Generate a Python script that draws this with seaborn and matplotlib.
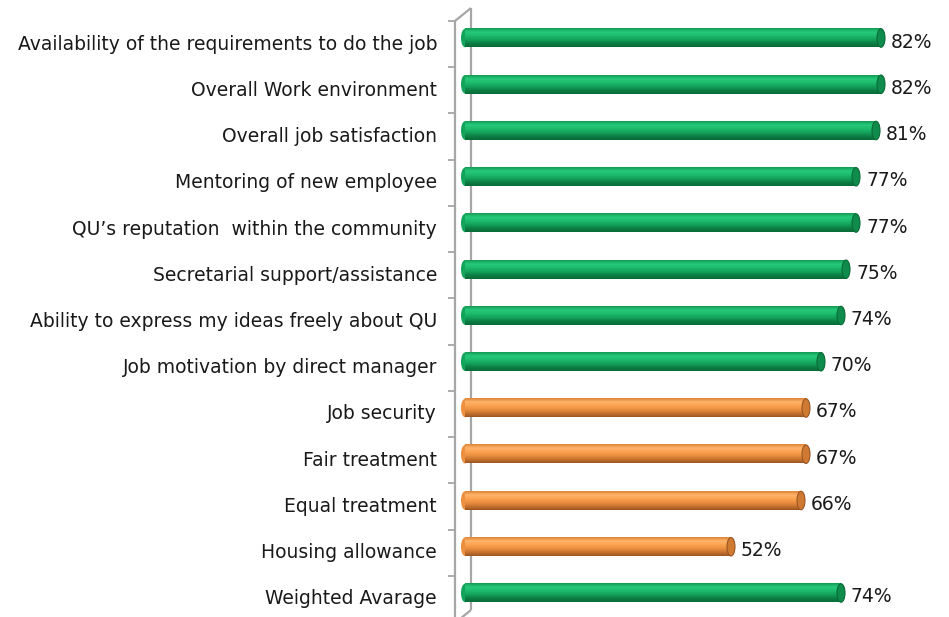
import numpy as np
import pandas as pd
import matplotlib
matplotlib.use("Agg")
import matplotlib.pyplot as plt
import matplotlib.transforms as mtransforms
from matplotlib.patches import Ellipse
from matplotlib.colors import LinearSegmentedColormap
from matplotlib.lines import Line2D
import seaborn as sns

# ---- data ----
categories = [
    "Availability of the requirements to do the job",
    "Overall Work environment",
    "Overall job satisfaction",
    "Mentoring of new employee",
    "QU\u2019s reputation  within the community",
    "Secretarial support/assistance",
    "Ability to express my ideas freely about QU",
    "Job motivation by direct manager",
    "Job security",
    "Fair treatment",
    "Equal treatment",
    "Housing allowance",
    "Weighted Avarage",
]
values = [0.82, 0.82, 0.81, 0.77, 0.77, 0.75, 0.74, 0.70, 0.67, 0.67, 0.66, 0.52, 0.74]
groups = ["high"] * 8 + ["low"] * 4 + ["high"]
value_labels = ["82%", "82%", "81%", "77%", "77%", "75%", "74%", "70%", "67%", "67%", "66%", "52%", "74%"]

palette = {"high": "#17b062", "low": "#f79a48"}
grad_colors = {
    "high": ["#159a56", "#26c97a", "#1dbb6b", "#13a35b", "#0c7f44", "#0a6a38"],
    "low": ["#dc8436", "#ffb46a", "#fba352", "#ec9040", "#c87430", "#9c5522"],
}
cap_colors = {"high": ("#0f8c4b", "#0a6a38"), "low": ("#cf7a32", "#9c5522")}

df = pd.DataFrame({"category": categories, "value": values, "group": groups})

W, H, DPI = 949, 617, 100
sns.set_theme(style="white")
plt.rcParams["font.family"] = ["DejaVu Sans"]

fig = plt.figure(figsize=(W / DPI, H / DPI), dpi=DPI)
zero_px = 471
x0_px, x1_px = 440, 935
top_px, bot_px = 14.9, 616.1
ax = fig.add_axes([x0_px / W, 1 - bot_px / H, (x1_px - x0_px) / W, (bot_px - top_px) / H])
ax.patch.set_alpha(0)

sns.barplot(data=df, x="value", y="category", hue="group", palette=palette,
            orient="h", width=0.4, legend=False, ax=ax, saturation=1)

PX = 500.0  # pixels per unit
xlim = ((x0_px - zero_px) / PX, (x1_px - zero_px) / PX)

cap_w = 8 / PX
left_off = 0.012
for patch in list(ax.patches):
    x, y = patch.get_x(), patch.get_y()
    w, h = patch.get_width(), patch.get_height()
    yc = y + h / 2
    idx = int(round(yc))
    g = groups[idx]
    patch.set_visible(False)
    cmap = LinearSegmentedColormap.from_list("c" + g, grad_colors[g])
    grad = np.linspace(0, 1, 64).reshape(-1, 1)
    ax.add_patch(Ellipse((x - left_off, yc), cap_w, h, facecolor=grad_colors[g][3],
                         edgecolor="none", zorder=2))
    ax.imshow(grad, cmap=cmap, aspect="auto", interpolation="bilinear",
              extent=(x - left_off, x + w, y + h, y), zorder=3)
    ax.add_patch(Ellipse((x + w, yc), cap_w, h, facecolor=cap_colors[g][0],
                         edgecolor=cap_colors[g][1], linewidth=0.8, zorder=4))

ax.set_xlim(*xlim)
ax.set_ylim(len(categories) - 0.5, -0.5)

# value labels
lab_tr = ax.transData + mtransforms.ScaledTranslation(10 / DPI, -4 / DPI, fig.dpi_scale_trans)
for i, (v, t) in enumerate(zip(values, value_labels)):
    ax.text(v, i, t, transform=lab_tr, ha="left", va="center", fontsize=13.5, color="#1a1a1a")

# category labels
cat_tr = mtransforms.blended_transform_factory(fig.transFigure, ax.transData) + \
    mtransforms.ScaledTranslation(0, -6 / DPI, fig.dpi_scale_trans)
for i, c in enumerate(categories):
    ax.text(437 / W, i, c, transform=cat_tr, ha="right", va="center", fontsize=13.5, color="#1a1a1a")

ax.set_xticks([])
ax.set_yticks([])
ax.set_xlabel("")
ax.set_ylabel("")
for s in ax.spines.values():
    s.set_visible(False)

# 3D-style axis wall lines (decoration, in pixels), drawn behind the axes
def P(px, py):
    return px / W, 1 - py / H

gray = "#a6a6a6"
def line(p1, p2, lw=1.6):
    (xa, ya), (xb, yb) = P(*p1), P(*p2)
    fig.add_artist(Line2D([xa, xb], [ya, yb], color=gray, linewidth=lw,
                          transform=fig.transFigure, solid_capstyle="butt", zorder=-1))

line((471, 8), (471, 610))
line((455, 21), (455, 625))
line((455, 21), (471, 8))
line((471, 610), (455, 623))
spacing = (bot_px - top_px) / len(categories)
for k in range(len(categories) + 1):
    yy = 21 + k * spacing
    if yy < 617:
        line((448, yy), (455, yy), lw=1.3)

fig.savefig("out.png", dpi=DPI)
